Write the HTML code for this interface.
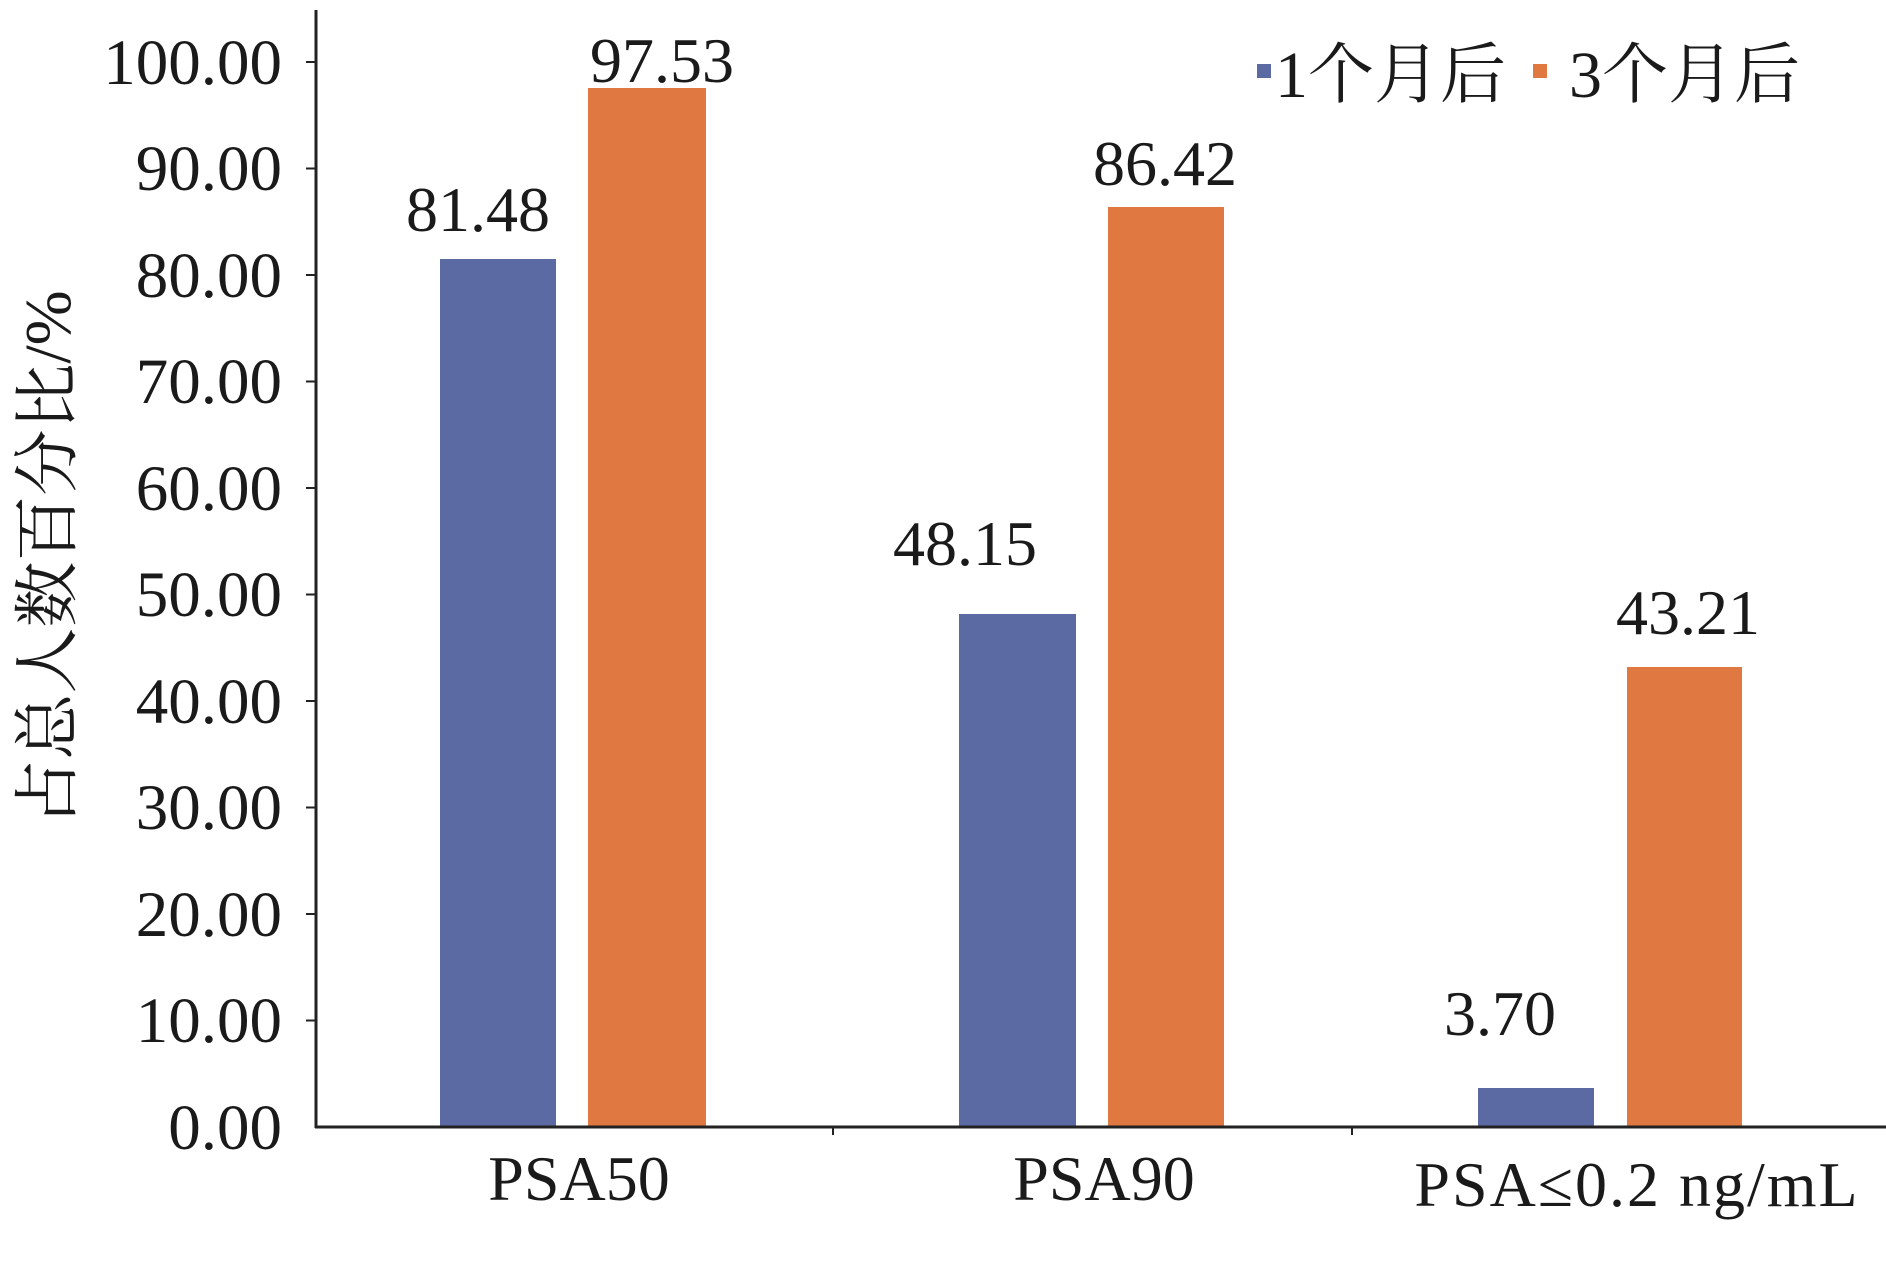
<!DOCTYPE html>
<html><head><meta charset="utf-8"><style>
html,body{margin:0;padding:0;background:#fff;}
svg{display:block;}
text{font-family:"Liberation Serif","Noto Serif CJK SC",serif;fill:#1a1a1a;}
</style></head><body>
<svg width="1886" height="1262" viewBox="0 0 1886 1262" xmlns="http://www.w3.org/2000/svg">
<g fill="#5b6aa3">
<rect x="440" y="259" width="116" height="868"/>
<rect x="959" y="614" width="117" height="513"/>
<rect x="1478" y="1088" width="116" height="39"/>
</g>
<g fill="#e07842">
<rect x="588" y="88" width="118" height="1039"/>
<rect x="1108" y="207" width="116" height="920"/>
<rect x="1627" y="667" width="115" height="460"/>
</g>
<line x1="316" y1="10" x2="316" y2="1128" stroke="#222" stroke-width="3"/>
<line x1="315" y1="1127" x2="1886" y2="1127" stroke="#222" stroke-width="3"/>
<g stroke="#222" stroke-width="2">
<line x1="306" y1="62" x2="316" y2="62"/><line x1="306" y1="168.5" x2="316" y2="168.5"/>
<line x1="306" y1="275" x2="316" y2="275"/><line x1="306" y1="381.5" x2="316" y2="381.5"/>
<line x1="306" y1="488" x2="316" y2="488"/><line x1="306" y1="594.5" x2="316" y2="594.5"/>
<line x1="306" y1="701" x2="316" y2="701"/><line x1="306" y1="807.5" x2="316" y2="807.5"/>
<line x1="306" y1="914" x2="316" y2="914"/><line x1="306" y1="1020.5" x2="316" y2="1020.5"/>
<line x1="833" y1="1127" x2="833" y2="1135"/><line x1="1352" y1="1127" x2="1352" y2="1135"/>
</g>
<g font-size="65" text-anchor="end">
<text x="282" y="84">100.00</text><text x="282" y="190">90.00</text>
<text x="282" y="297">80.00</text><text x="282" y="403">70.00</text>
<text x="282" y="510">60.00</text><text x="282" y="616">50.00</text>
<text x="282" y="723">40.00</text><text x="282" y="829">30.00</text>
<text x="282" y="936">20.00</text><text x="282" y="1042">10.00</text>
<text x="282" y="1149">0.00</text>
</g>
<g font-size="64" text-anchor="middle">
<text x="478" y="231">81.48</text>
<text x="662" y="82">97.53</text>
<text x="965" y="565">48.15</text>
<text x="1165" y="185">86.42</text>
<text x="1500" y="1035">3.70</text>
<text x="1688" y="634">43.21</text>
<text x="579" y="1200">PSA50</text>
<text x="1104" y="1200">PSA90</text>
<text x="1637" y="1206" letter-spacing="2">PSA≤0.2 ng/mL</text>
</g>
<text font-size="66" text-anchor="middle" transform="translate(70,558) rotate(-90)">占总人数百分比/%</text>
<rect x="1257" y="64" width="14" height="14" fill="#5b6aa3"/>
<rect x="1533" y="64" width="14" height="14" fill="#e07842"/>
<text x="1275" y="97" font-size="66">1个月后</text>
<text x="1569" y="97" font-size="66">3个月后</text>
</svg>
</body></html>
